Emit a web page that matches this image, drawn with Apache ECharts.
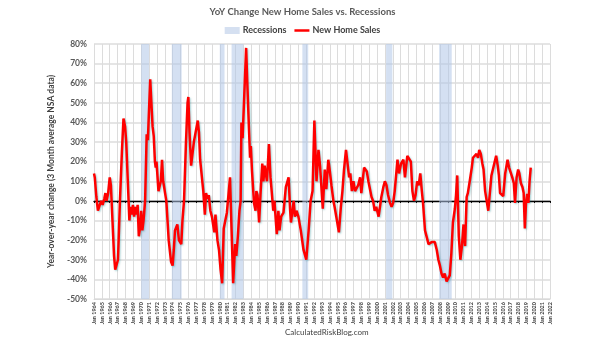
<!DOCTYPE html>
<html>
<head>
<meta charset="utf-8">
<script src="https://cdn.jsdelivr.net/npm/echarts@6/dist/echarts.min.js"></script>
<style>html,body{margin:0;padding:0;background:#fff;}#c{width:605px;height:341px;}</style>
</head>
<body>
<div id="c"></div>
<script>
// Decimal-year positions and YoY % values
var years = [1964.0,1964.1,1964.3,1964.5,1964.7,1964.9,1965.1,1965.3,1965.45,1965.6,1965.8,1966.0,1966.15,1966.35,1966.55,1966.7,1966.85,1967.05,1967.3,1967.55,1967.75,1967.95,1968.1,1968.3,1968.5,1968.65,1968.8,1968.95,1969.1,1969.25,1969.4,1969.55,1969.7,1969.85,1970.0,1970.15,1970.3,1970.5,1970.7,1970.85,1971.15,1971.3,1971.45,1971.6,1971.75,1971.85,1971.95,1972.2,1972.35,1972.5,1972.65,1972.8,1973.0,1973.2,1973.5,1973.8,1974.0,1974.15,1974.3,1974.45,1974.6,1974.8,1975.1,1975.25,1975.45,1975.7,1975.9,1976.0,1976.15,1976.35,1976.5,1976.7,1977.2,1977.35,1977.5,1977.7,1977.9,1978.1,1978.25,1978.45,1978.6,1978.8,1979.0,1979.3,1979.45,1979.7,1979.9,1980.1,1980.3,1980.5,1980.7,1980.9,1981.3,1981.5,1981.7,1981.85,1981.95,1982.1,1982.3,1982.5,1982.65,1982.75,1982.9,1983.35,1983.5,1983.7,1983.85,1983.95,1984.1,1984.35,1984.55,1984.65,1984.8,1985.0,1985.2,1985.4,1985.55,1985.7,1986.0,1986.25,1986.45,1986.6,1986.8,1986.95,1987.25,1987.45,1987.6,1987.8,1988.1,1988.4,1988.6,1988.75,1988.95,1989.05,1989.3,1989.4,1989.55,1989.75,1990.0,1990.3,1990.65,1991.0,1991.3,1991.55,1991.8,1992.03,1992.3,1992.55,1992.75,1993.1,1993.35,1993.55,1993.8,1994.0,1994.2,1994.45,1994.6,1994.9,1995.15,1995.4,1995.6,1995.8,1996.05,1996.2,1996.45,1996.6,1996.8,1997.0,1997.2,1997.4,1997.6,1997.85,1998.0,1998.35,1998.7,1998.9,1999.3,1999.5,1999.7,1999.9,2000.2,2000.4,2000.55,2000.8,2001.0,2001.2,2001.4,2001.65,2001.85,2002.05,2002.25,2002.6,2002.8,2003.05,2003.35,2003.55,2003.85,2004.1,2004.3,2004.5,2004.7,2004.9,2005.1,2005.3,2005.5,2005.7,2005.85,2006.1,2006.3,2006.55,2006.75,2006.95,2007.15,2007.35,2007.6,2007.8,2008.0,2008.2,2008.4,2008.6,2008.85,2009.05,2009.25,2009.45,2009.65,2009.9,2010.05,2010.2,2010.4,2010.6,2010.8,2011.0,2011.1,2011.2,2011.4,2011.55,2011.75,2012.05,2012.2,2012.45,2012.65,2012.85,2013.0,2013.2,2013.4,2013.55,2013.75,2013.95,2014.15,2014.3,2014.55,2014.8,2015.15,2015.35,2015.5,2015.65,2015.85,2016.05,2016.3,2016.6,2016.8,2017.0,2017.2,2017.4,2017.55,2017.75,2017.95,2018.1,2018.3,2018.5,2018.65,2018.8,2018.95,2019.1,2019.25,2019.4,2019.55];
var sales = [14,12,2,-5,-5,0,-2,1,4,0,4,12,8,-10,-28,-35,-36,-30,0,25,42,38,30,10,-10,-3,-7,-2,-8,-3,-7,-2,-18,-14,-5,-15,-10,0,34,31,62,50,38,33,20,17,20,5,4,10,21,10,10,0,-20,-31,-33,-25,-15,-14,-12,-20,-22,-10,0,30,50,53,35,18,17,30,41,35,21,20,5,-7,4,1,3,-5,-8,-16,-7,-20,-25,-35,-42,-14,-10,-6,12,-15,-42,-30,-22,-28,-18,-5,0,40,32,78,60,38,22,28,15,-1,-5,5,3,-11,5,19,10,18,10,29,12,5,-5,0,-17,-5,-15,-8,-6,7,8,12,-5,-11,-3,0,-8,-5,-8,-15,-25,-30,-15,0,5,41,10,26,18,-4,16,6,21,15,8,0,-3,-10,-16,-3,5,16,26,27,12,14,5,10,5,4,8,12,4,17,15,10,2,0,-5,-3,-8,-9,2,7,10,8,3,-1,-3,-1,5,21,14,19,21,12,23,24,20,5,0,3,10,8,14,5,-1,-15,-16,-22,-23,-21,-22,-21,-25,-30,-33,-37,-39,-37,-41,-42,-38,-27,-11,-4,3,13,-18,-30,-23,-12,-19,-23,2,4,9,17,22,23,24,22,26,24,19,16,5,4,-5,-4,13,12,23,18,13,4,3,2.5,14,21,17,18,12,9,-1,12,16,14,9,7,4,-14,-1,3.6,-1,10,17];
var recStarts = [1970.0,1973.9,1980.0,1981.5,1990.5,2001.15,2007.9];
var recEnds   = [1971.0,1975.15,1980.6,1983.0,1991.25,2001.95,2009.5];
var yTicks = {min:-50, max:80, step:10};

var lineData = years.map(function(y,i){return [y, sales[i]];});
var areas = recStarts.map(function(s,i){return [{xAxis:s},{xAxis:recEnds[i]}];});
var FONT = 'Lato';
var chart = echarts.init(document.getElementById('c'), null, {renderer:'canvas'});
chart.setOption({
  animation:false,
  backgroundColor:'#fff',
  textStyle:{fontFamily:FONT},
  title:{text:'YoY Change New Home Sales vs. Recessions', left:'center', top:2,
    textStyle:{fontFamily:FONT, fontSize:9.5, fontWeight:'bold', color:'#595959'}},
  legend:{top:21, left:'center', itemWidth:15, itemHeight:7, itemGap:8,
    textStyle:{fontFamily:FONT, fontSize:9, fontWeight:'bold', color:'#404040', padding:[0,0,0,-2]},
    data:[{name:'Recessions', icon:'rect'},
          {name:'New Home Sales', icon:'path://M0,0 L6,0 L6,1 L0,1 Z', itemStyle:{color:'#ff0000'}}]},
  graphic:[{type:'text', left:285, top:328, style:{text:'CalculatedRiskBlog.com', fontFamily:FONT, fontSize:8, fill:'#404040'}}],
  grid:{left:94, right:55, top:44, bottom:42, containLabel:false},
  xAxis:[{
    type:'value', min:1964, max:2022, interval:1, position:'bottom',
    axisLine:{show:true, onZero:false, lineStyle:{color:'#d9d9d9'}},
    axisTick:{show:false},
    axisLabel:{rotate:90, fontSize:5.5, fontWeight:'bold', color:'#404040', margin:3,
      formatter:function(v){return 'Jan ' + v;}},
    splitLine:{show:true, lineStyle:{color:'#dcdcdc', width:1}}
  },{
    type:'value', min:1964, max:2022, interval:1, position:'bottom',
    axisLine:{show:true, onZero:true, lineStyle:{color:'#000', width:1.3}},
    axisTick:{show:true, length:2, lineStyle:{color:'#000'}},
    axisLabel:{show:false}, splitLine:{show:false}
  }],
  yAxis:{
    type:'value', min:yTicks.min, max:yTicks.max, interval:yTicks.step,
    name:'Year-over-year change (3 Month average NSA data)', nameLocation:'middle', nameGap:31,
    nameTextStyle:{fontFamily:FONT, fontSize:8.5, fontWeight:'bold', color:'#404040'},
    axisLine:{show:false}, axisTick:{show:false},
    axisLabel:{fontSize:8.5, fontWeight:'bold', color:'#595959', margin:7, formatter:'{value}%'},
    splitLine:{show:true, lineStyle:{color:'#dcdcdc', width:1.5}}
  },
  series:[{
    name:'Recessions', type:'bar', data:[], xAxisIndex:0,
    itemStyle:{color:'#d5e0f1'},
    markArea:{silent:true, itemStyle:{color:'rgba(176,198,232,0.55)'}, data:areas}
  },{
    name:'New Home Sales', type:'line', data:lineData, xAxisIndex:0, symbol:'none',
    z:5, lineStyle:{color:'#ff0000', width:2.5, shadowColor:'rgba(0,120,130,0.35)', shadowBlur:2, shadowOffsetX:1, shadowOffsetY:1},
    itemStyle:{color:'#ff0000'}
  }]
});
</script>
</body>
</html>
